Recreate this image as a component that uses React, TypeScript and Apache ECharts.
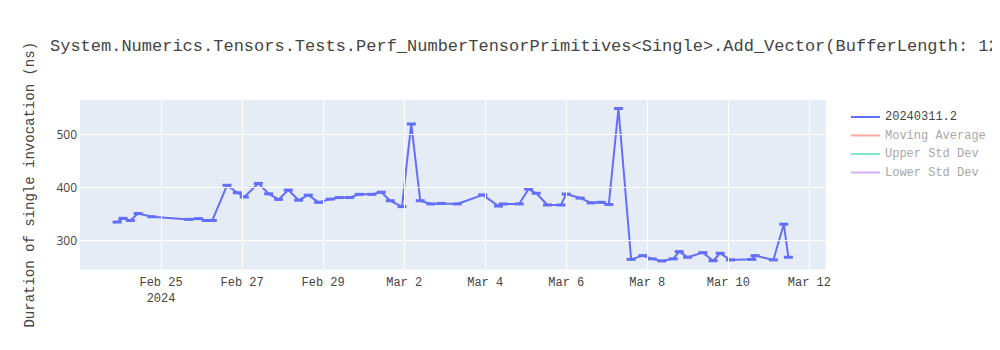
import React, { useEffect, useRef } from "react";
import * as echarts from "echarts";

const TITLE =
  "System.Numerics.Tensors.Tests.Perf_NumberTensorPrimitives<Single>.Add_Vector(BufferLength: 128)";
const Y_NAME = "Duration of single invocation (ns)";
const MAIN_NAME = "20240311.2";
const OTHER_NAMES = ["Moving Average", "Upper Std Dev", "Lower Std Dev"];

const times: string[] = [
  "2024-02-23 21:58", "2024-02-24 01:30", "2024-02-24 05:50", "2024-02-24 10:24",
  "2024-02-24 18:40", "2024-02-25 16:28", "2024-02-25 22:06", "2024-02-26 02:50",
  "2024-02-26 06:23", "2024-02-26 15:04", "2024-02-26 21:11", "2024-02-27 01:19",
  "2024-02-27 09:37", "2024-02-27 15:43", "2024-02-27 21:38", "2024-02-28 03:23",
  "2024-02-28 09:29", "2024-02-28 15:13", "2024-02-28 21:19", "2024-02-29 04:15",
  "2024-02-29 09:34", "2024-02-29 15:40", "2024-02-29 21:25", "2024-03-01 04:55",
  "2024-03-01 10:26", "2024-03-01 15:46", "2024-03-01 22:41", "2024-03-02 04:12",
  "2024-03-02 09:31", "2024-03-02 15:52", "2024-03-02 21:58", "2024-03-03 07:25",
  "2024-03-03 22:31", "2024-03-04 07:52", "2024-03-04 10:39", "2024-03-04 20:08",
  "2024-03-05 01:38", "2024-03-05 06:12", "2024-03-05 12:53", "2024-03-05 20:49",
  "2024-03-05 23:57", "2024-03-06 08:14", "2024-03-06 14:45", "2024-03-06 20:40",
  "2024-03-07 01:13", "2024-03-07 06:54", "2024-03-07 14:25", "2024-03-07 21:21",
  "2024-03-08 02:51", "2024-03-08 08:36", "2024-03-08 15:17", "2024-03-08 18:57",
  "2024-03-08 23:53", "2024-03-09 08:53", "2024-03-09 14:58", "2024-03-09 19:08",
  "2024-03-10 01:13", "2024-03-10 13:54", "2024-03-10 15:50", "2024-03-11 02:40",
  "2024-03-11 08:50", "2024-03-11 11:33",
];

const durations: number[] = [
  335, 342, 338, 351, 345, 340, 341.5, 338, 338, 404, 390, 382, 407.5, 388, 377.5, 395,
  376, 385.5, 372, 378, 381, 381, 387, 387, 391, 375, 364, 519, 375, 369, 370, 369,
  386, 365, 369, 369, 397, 389, 367, 367, 387.5, 380, 371, 372, 368, 548, 265, 272,
  266, 262, 266, 279.5, 269, 277.6, 262.5, 276.4, 264, 265, 272, 264, 331, 269,
];

const yTicks: number[] = [300, 400, 500];
const xTickDates: string[] = [
  "2024-02-25 00:00", "2024-02-27 00:00", "2024-02-29 00:00", "2024-03-02 00:00",
  "2024-03-04 00:00", "2024-03-06 00:00", "2024-03-08 00:00", "2024-03-10 00:00",
  "2024-03-12 00:00",
];
const X_MIN = "2024-02-23 00:00";
const X_MAX = "2024-03-12 09:50";
const Y_MIN = 246;
const Y_MAX = 564;

const MONTHS = ["Jan", "Feb", "Mar", "Apr", "May", "Jun", "Jul", "Aug", "Sep", "Oct", "Nov", "Dec"];
const MONO = '"Courier New", "Liberation Mono", "DejaVu Sans Mono", monospace';

const toTs = (s: string) => {
  const [d, t] = s.split(" ");
  const [y, m, day] = d.split("-").map(Number);
  const [hh, mm] = t.split(":").map(Number);
  return new Date(y, m - 1, day, hh, mm).getTime();
};

export default function App() {
  const ref = useRef<HTMLDivElement>(null);

  useEffect(() => {
    if (!ref.current) return;
    const chart = echarts.init(ref.current, undefined, { renderer: "svg" });
    const mainData = times.map((t, i) => [toTs(t), durations[i]]);
    const xTicks = xTickDates.map(toTs);
    const firstTick = xTicks[0];

    chart.setOption({
      animation: false,
      backgroundColor: "#ffffff",
      title: {
        text: TITLE,
        left: 45,
        top: 33,
        textStyle: { fontFamily: MONO, fontSize: 17, fontWeight: "normal", color: "#444" },
      },
      legend: {
        orient: "vertical",
        left: 846,
        top: 104,
        itemWidth: 29,
        itemHeight: 2,
        itemGap: 2.5,
        icon: "rect",
        selectedMode: false,
        textStyle: { fontFamily: MONO, fontSize: 12, lineHeight: 16, color: "#444" },
        data: [
          { name: MAIN_NAME, textStyle: { color: "#444" } },
          ...OTHER_NAMES.map((n) => ({ name: n, textStyle: { color: "#a8a8a8" } })),
        ],
      },
      grid: {
        left: 80,
        right: 174,
        top: 100,
        bottom: 80.5,
        show: true,
        backgroundColor: "#E5ECF6",
        borderWidth: 0,
      },
      xAxis: {
        type: "value",
        min: toTs(X_MIN),
        max: toTs(X_MAX),
        axisLine: { show: false },
        axisTick: { show: false },
        splitLine: { show: false },
        axisLabel: {
          customValues: xTicks,
          margin: 5,
          fontFamily: MONO,
          fontSize: 12,
          lineHeight: 16,
          color: "#444",
          formatter: (v: number) => {
            const d = new Date(v);
            const s = `${MONTHS[d.getMonth()]} ${d.getDate()}`;
            return v === firstTick ? `${s}\n${d.getFullYear()}` : s;
          },
        },
      },
      yAxis: {
        type: "value",
        min: Y_MIN,
        max: Y_MAX,
        name: Y_NAME,
        nameLocation: "middle",
        nameGap: 43,
        nameTextStyle: { fontFamily: MONO, fontSize: 14, color: "#444" },
        axisLine: { show: false },
        axisTick: { show: false },
        splitLine: { show: false },
        axisLabel: {
          customValues: yTicks,
          margin: 3,
          fontFamily: '"Open Sans", "Noto Sans", sans-serif',
          fontSize: 12,
          color: "#444",
        },
      },
      series: [
        {
          name: "__grid",
          type: "line",
          data: mainData,
          symbol: "none",
          lineStyle: { opacity: 0 },
          silent: true,
          z: 1,
          markLine: {
            silent: true,
            symbol: "none",
            label: { show: false },
            lineStyle: { color: "#ffffff", width: 1, type: "solid" },
            data: [
              ...yTicks.map((v) => ({ yAxis: v })),
              ...xTicks.map((t) => ({ xAxis: t })),
            ],
          },
        },
        {
          name: MAIN_NAME,
          type: "line",
          data: mainData,
          symbol: "rect",
          symbolSize: [9, 3],
          itemStyle: { color: "#636efa" },
          lineStyle: { color: "#636efa", width: 2 },
          z: 3,
        },
        { name: OTHER_NAMES[0], type: "line", data: [], itemStyle: { color: "#f7aa9d" }, lineStyle: { color: "#f7aa9d" } },
        { name: OTHER_NAMES[1], type: "line", data: [], itemStyle: { color: "#80e6cb" }, lineStyle: { color: "#80e6cb" } },
        { name: OTHER_NAMES[2], type: "line", data: [], itemStyle: { color: "#d5b1fd" }, lineStyle: { color: "#d5b1fd" } },
      ],
    });

    return () => chart.dispose();
  }, []);

  return <div ref={ref} style={{ width: 1000, height: 350, margin: -8 }} />;
}
